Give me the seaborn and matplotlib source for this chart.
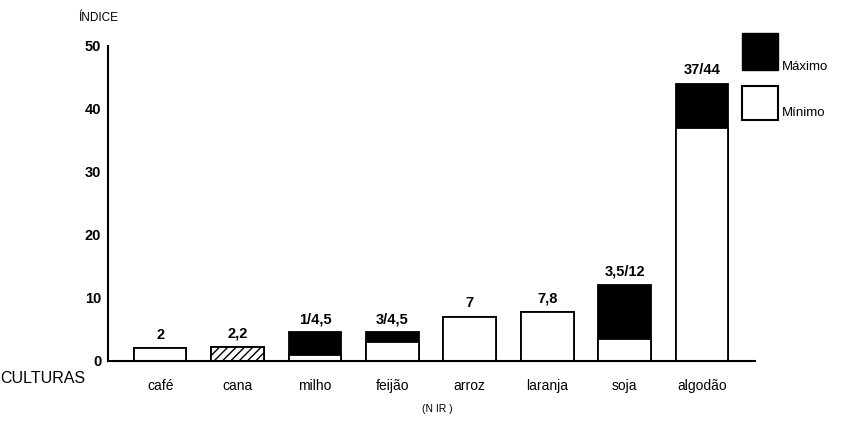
import pandas as pd
import matplotlib.pyplot as plt
import seaborn as sns
from matplotlib.patches import Rectangle

culturas = ['café', 'cana', 'milho', 'feijão', 'arroz', 'laranja', 'soja', 'algodão']
minimo = [2, 2.2, 1, 3, 7, 7.8, 3.5, 37]
maximo = [2, 2.2, 4.5, 4.5, 7, 7.8, 12, 44]
rotulos = ['2', '2,2', '1/4,5', '3/4,5', '7', '7,8', '3,5/12', '37/44']

df = pd.DataFrame({'Cultura': culturas, 'Minimo': minimo, 'Maximo': maximo, 'Rotulo': rotulos})

sns.set_theme(style="white")
plt.rcParams['font.family'] = ['Liberation Sans', 'DejaVu Sans']
plt.rcParams['text.color'] = 'black'
plt.rcParams['xtick.color'] = 'black'
plt.rcParams['ytick.color'] = 'black'
plt.rcParams['xtick.labelcolor'] = 'black'
plt.rcParams['ytick.labelcolor'] = 'black'

fig = plt.figure(figsize=(8.46, 4.22), dpi=100)
ax = fig.add_axes([0.128, 0.145, 0.764, 0.746])

# barras do maximo: pretas quando ha faixa, brancas quando valor unico
cores_max = ['black' if mx > mn else 'white' for mn, mx in zip(minimo, maximo)]
sns.barplot(data=df, x='Cultura', y='Maximo', hue='Cultura', palette=cores_max,
            legend=False, width=0.68, edgecolor='black', linewidth=1.3, ax=ax)
# barras do minimo por cima, em branco
sns.barplot(data=df, x='Cultura', y='Minimo', color='white',
            width=0.68, edgecolor='black', linewidth=1.3, ax=ax)

# cana com hachura
ax.patches[1].set_hatch('////')
ax.patches[len(culturas) + 1].set_hatch('////')

for i, row in df.iterrows():
    ax.text(i, row['Maximo'] + 1.0, row['Rotulo'], ha='center', va='bottom',
            fontsize=10.5, fontweight='bold', color='black')

ax.set_xlim(-0.67, 7.68)
ax.set_ylim(0, 50)
ax.set_yticks([0, 10, 20, 30, 40, 50])
ax.set_yticklabels(['0', '10', '20', '30', '40', '50'], fontweight='bold', fontsize=10.5)
ax.set_xticks(range(len(culturas)))
ax.set_xticklabels(culturas, fontsize=10)
ax.tick_params(axis='y', direction='out', length=4, width=1.2, pad=1, colors='black')
ax.tick_params(axis='x', direction='out', length=5, width=1.2, pad=8, colors='black')
ax.set_xlabel('')
ax.set_ylabel('')

for side in ['top', 'right']:
    ax.spines[side].set_visible(False)
ax.spines['left'].set_linewidth(1.5)
ax.spines['bottom'].set_linewidth(1.5)
ax.spines['left'].set_color('black')
ax.spines['bottom'].set_color('black')

fig.text(0.092, 0.958, 'ÍNDICE', fontsize=8.5, ha='left', va='center')
fig.text(0.0, 0.102, 'CULTURAS', fontsize=11.5, ha='left', va='center')
fig.text(0.517, 0.03, '(N IR )', fontsize=7.5, ha='center', va='center')

# legenda
fig.patches.append(Rectangle((742 / 846, 1 - 70 / 422), 36 / 846, 37 / 422,
                             transform=fig.transFigure, facecolor='black', edgecolor='black'))
fig.patches.append(Rectangle((742 / 846, 1 - 120 / 422), 36 / 846, 34 / 422,
                             transform=fig.transFigure, facecolor='white', edgecolor='black',
                             linewidth=1.5))
fig.text(782 / 846, 1 - 67 / 422, 'Máximo', fontsize=9.5, ha='left', va='center')
fig.text(782 / 846, 1 - 113 / 422, 'Mínimo', fontsize=9.5, ha='left', va='center')

plt.savefig('out.png', dpi=100)
